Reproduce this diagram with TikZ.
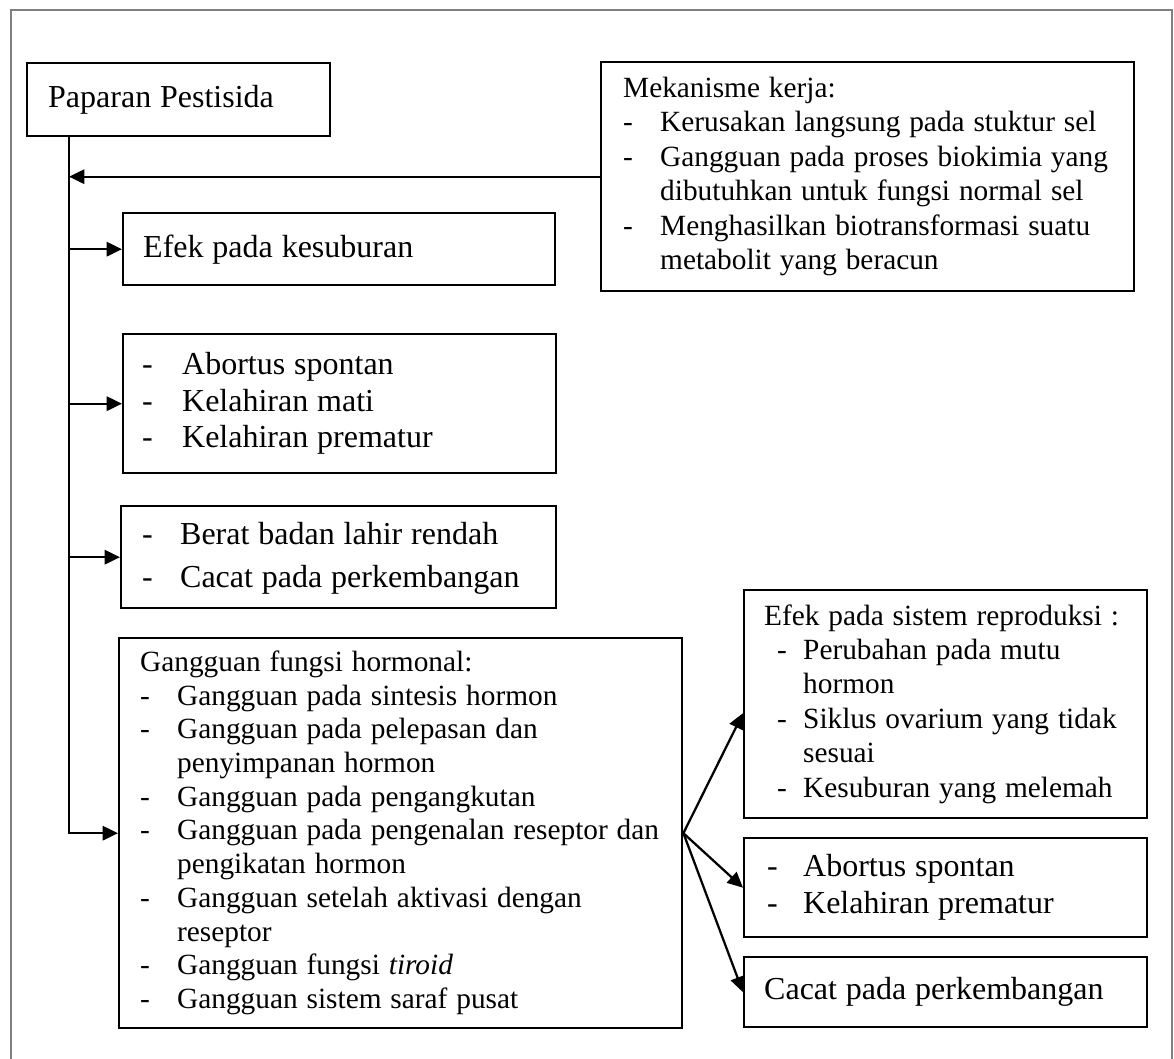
\documentclass[tikz,border=0pt]{standalone}
\usepackage{fontspec}
\setmainfont{Liberation Serif}
\usetikzlibrary{arrows.meta, calc}
\newdimen\px \px=0.375pt

\begin{document}
\begin{tikzpicture}[x=0.375pt, y=-0.375pt,
          box/.style={draw, line width=0.9pt, anchor=north west,
                      inner sep=0pt, align=left},
          arr/.style={-{Triangle[length=5.8pt,width=5.4pt]}, line width=0.85pt},
          frame/.style={draw=black!50, line width=0.5pt}]
        \useasboundingbox (0,0) rectangle (1174,1059);
        \draw[frame] (11,1059) -- (11,10) -- (1172,10) -- (1172,1059);

        % left column
        \node[box, minimum width=303\px, minimum height=73\px, text width=261\px] (pap) at (26,62) {%
          \fontsize{12}{13.8}\selectfont\raisebox{2.4pt}{Paparan Pestisida}};
        \node[box, minimum width=432\px, minimum height=72\px, text width=392\px] (efk) at (122,212) {%
          \fontsize{12}{13.8}\selectfont\raisebox{2.4pt}{Efek pada kesuburan}};
        \node[box, minimum width=433\px, minimum height=139\px, text width=395\px] (abo) at (122,333) {%
          \fontsize{12}{13.8}\selectfont
          \begin{tabular}{@{}p{40\px}@{}l@{}}
            - & Abortus spontan\\
            - & Kelahiran mati\\
            - & Kelahiran prematur
          \end{tabular}};
        \node[box, minimum width=435\px, minimum height=102\px, text width=393\px] (brt) at (120,505) {%
          \fontsize{12}{16.1}\selectfont
          \begin{tabular}{@{}p{38\px}@{}l@{}}
            - & Berat badan lahir rendah\\
            - & Cacat pada perkembangan
          \end{tabular}};
        \node[box, minimum width=563\px, minimum height=390\px, text width=521\px] (ggn) at (118,637) {%
          \fontsize{11}{12.65}\selectfont
          \begin{tabular}{@{}p{37\px}@{}l@{}}
            \multicolumn{2}{@{}l@{}}{Gangguan fungsi hormonal:}\\
            - & Gangguan pada sintesis hormon\\
            - & Gangguan pada pelepasan dan\\
              & penyimpanan hormon\\
            - & Gangguan pada pengangkutan\\
            - & Gangguan pada pengenalan reseptor dan\\
              & pengikatan hormon\\
            - & Gangguan setelah aktivasi dengan\\
              & reseptor\\
            - & Gangguan fungsi \textit{tiroid}\\
            - & Gangguan sistem saraf pusat
          \end{tabular}};

        % right column
        \node[box, minimum width=533\px, minimum height=229\px, text width=489\px] (mek) at (600,61) {%
          \fontsize{11}{12.9}\selectfont
          \begin{tabular}{@{}p{37\px}@{}l@{}}
            \multicolumn{2}{@{}l@{}}{Mekanisme kerja:}\\
            - & Kerusakan langsung pada stuktur sel\\
            - & Gangguan pada proses biokimia yang\\
              & dibutuhkan untuk fungsi normal sel\\
            - & Menghasilkan biotransformasi suatu\\
              & metabolit yang beracun
          \end{tabular}};
        \node[box, minimum width=403\px, minimum height=228\px, text width=363\px] (rep) at (743,589) {%
          \fontsize{11}{12.9}\selectfont
          \begin{tabular}{@{\hspace{13\px}}p{26\px}@{}l@{}}
            \multicolumn{2}{@{}l@{}}{Efek pada sistem reproduksi :}\\
            - & Perubahan pada mutu\\
              & hormon\\
            - & Siklus ovarium yang tidak\\
              & sesuai\\
            - & Kesuburan yang melemah
          \end{tabular}};
        \node[box, minimum width=403\px, minimum height=99\px, text width=357\px] (abr) at (743,837) {%
          \fontsize{12}{13.8}\selectfont
          \begin{tabular}{@{}p{36\px}@{}l@{}}
            - & Abortus spontan\\
            - & Kelahiran prematur
          \end{tabular}};
        \node[box, minimum width=403\px, minimum height=70\px, text width=363\px] (cct) at (743,956) {%
          \fontsize{12}{13.8}\selectfont\raisebox{2.4pt}{Cacat pada perkembangan}};

        % connectors
        \coordinate (trk) at ($(pap.south west)+(43,0)$);
        \draw[arr] (mek.west) -- (mek.west -| trk);
        \draw[arr] (trk) |- (ggn.west);
        \foreach \nm in {efk,abo,brt}
          \draw[arr] (trk |- \nm.west) -- (\nm.west);
        \draw[arr] (ggn.east) -- ($(rep.west)+(0,9)$);
        \foreach \nm in {abr,cct}
          \draw[arr] (ggn.east) -- (\nm.west);
      \end{tikzpicture}
\end{document}
